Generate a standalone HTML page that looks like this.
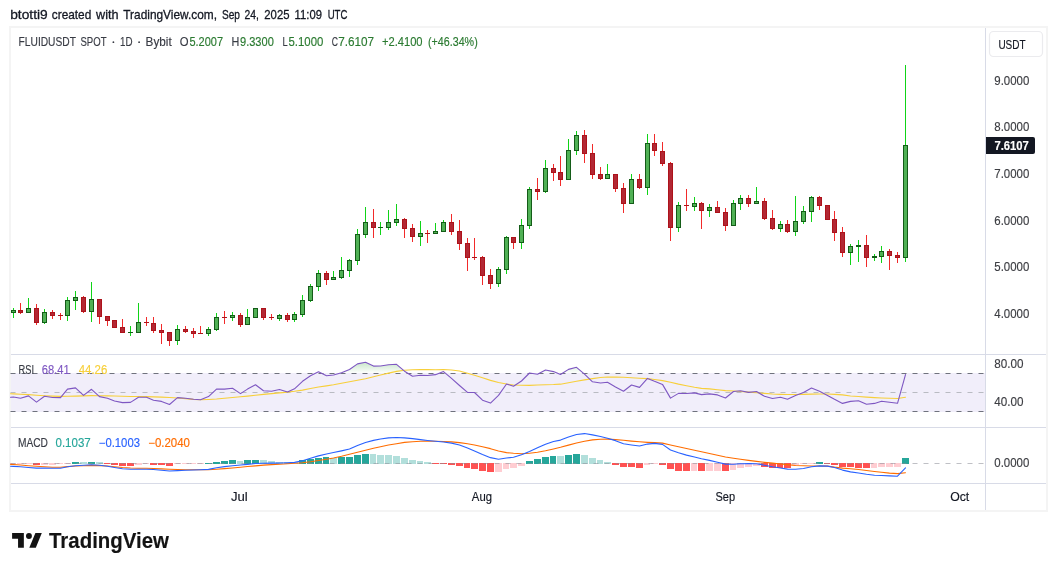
<!DOCTYPE html>
<html><head><meta charset="utf-8"><title>FLUIDUSDT chart</title>
<style>
html,body{margin:0;padding:0;background:#fff;}
body{width:1057px;height:571px;overflow:hidden;font-family:"Liberation Sans",sans-serif;}
svg{will-change:transform;display:block;position:absolute;left:0;top:0;}
text{font-family:"Liberation Sans",sans-serif;}
</style></head><body>
<svg width="1057" height="571" viewBox="0 0 1057 571">
<defs>
<linearGradient id="ob" gradientUnits="userSpaceOnUse" x1="0" y1="355" x2="0" y2="373.5">
<stop offset="0" stop-color="#4caf50" stop-opacity="0.5"/><stop offset="1" stop-color="#4caf50" stop-opacity="0"/>
</linearGradient>
<clipPath id="obclip"><rect x="11" y="355" width="974" height="18.5"/></clipPath>
</defs>
<rect x="0" y="0" width="1057" height="571" fill="#ffffff"/>

<g shape-rendering="crispEdges">
<rect x="9" y="26" width="1039" height="486" fill="#f4f4f4"/>
<rect x="11" y="28" width="1035" height="482" fill="#ffffff"/>
<rect x="11" y="373" width="974" height="39" fill="#f1eefa"/>
</g>
<path d="M10.5,373.5 L10.5,373.5 L13.5,373.5 L20.5,373.5 L28.5,373.5 L36.5,373.5 L44.5,373.5 L52.5,373.5 L60.5,373.5 L67.5,373.5 L75.5,373.5 L83.5,373.5 L91.5,373.5 L99.5,373.5 L107.5,373.5 L114.5,373.5 L122.5,373.5 L130.5,373.5 L138.5,373.5 L146.5,373.5 L153.5,373.5 L161.5,373.5 L169.5,373.5 L177.5,373.5 L185.5,373.5 L193.5,373.5 L200.5,373.5 L208.5,373.5 L216.5,373.5 L224.5,373.5 L232.5,373.5 L240.5,373.5 L247.5,373.5 L255.5,373.5 L263.5,373.5 L271.5,373.5 L279.5,373.5 L287.5,373.5 L294.5,373.5 L302.5,373.5 L310.5,373.5 L318.5,371.8 L326.5,373.5 L333.5,373.5 L341.5,372.8 L349.5,369.5 L357.5,363.9 L365.5,362.2 L373.5,366.1 L380.5,366 L388.5,364.8 L396.5,364.3 L404.5,371.2 L412.5,373.5 L420.5,373.5 L427.5,373.5 L435.5,373.5 L443.5,371.6 L451.5,373.5 L459.5,373.5 L467.5,373.5 L474.5,373.5 L482.5,373.5 L490.5,373.5 L498.5,373.5 L506.5,373.5 L513.5,373.5 L521.5,373.5 L529.5,373 L537.5,373.5 L545.5,370.05 L553.5,371.6 L560.5,373.5 L568.5,369.4 L576.5,367.3 L584.5,373.5 L592.5,373.5 L600.5,373.5 L607.5,373.5 L615.5,373.5 L623.5,373.5 L631.5,373.5 L639.5,373.5 L647.5,373.5 L654.5,373.5 L662.5,373.5 L670.5,373.5 L678.5,373.5 L686.5,373.5 L694.5,373.5 L701.5,373.5 L709.5,373.5 L717.5,373.5 L725.5,373.5 L733.5,373.5 L740.5,373.5 L748.5,373.5 L756.5,373.5 L764.5,373.5 L772.5,373.5 L780.5,373.5 L787.5,373.5 L795.5,373.5 L803.5,373.5 L811.5,373.5 L819.5,373.5 L827.5,373.5 L834.5,373.5 L842.5,373.5 L850.5,373.5 L858.5,373.5 L866.5,373.5 L874.5,373.5 L881.5,373.5 L889.5,373.5 L897.5,373.5 L905.5,373.5 L905.5,373.5 Z" fill="url(#ob)" clip-path="url(#obclip)"/>
<g shape-rendering="crispEdges" fill="#d8dbe7">
<rect x="11" y="354" width="1035" height="1"/>
<rect x="11" y="427" width="1035" height="1"/>
<rect x="11" y="483" width="1035" height="1"/>
<rect x="985" y="28" width="1" height="482"/>
</g>
<g fill="none" stroke-dasharray="5 6" stroke-width="1">
<path d="M10.5,373.5H985" stroke="#6f727d"/>
<path d="M10.5,411.5H985" stroke="#6f727d"/>
<path d="M10.5,392.5H985" stroke="#b9bbc2"/>
</g>
<g shape-rendering="crispEdges">
<rect x="10" y="463" width="6" height="1" fill="#ffcdd2"/>
<rect x="17" y="463" width="7" height="1" fill="#ffcdd2"/>
<rect x="25" y="463" width="7" height="1" fill="#ffcdd2"/>
<rect x="33" y="463" width="7" height="2" fill="#ff5252"/>
<rect x="41" y="463" width="7" height="2" fill="#ffcdd2"/>
<rect x="49" y="463" width="7" height="2" fill="#ffcdd2"/>
<rect x="57" y="463" width="6" height="1" fill="#ffcdd2"/>
<rect x="64" y="463" width="7" height="1" fill="#ffcdd2"/>
<rect x="72" y="462" width="7" height="2" fill="#26a69a"/>
<rect x="80" y="462" width="7" height="2" fill="#b2dfdb"/>
<rect x="88" y="462" width="7" height="2" fill="#26a69a"/>
<rect x="96" y="462" width="7" height="2" fill="#b2dfdb"/>
<rect x="104" y="463" width="6" height="1" fill="#ff5252"/>
<rect x="111" y="463" width="7" height="2" fill="#ff5252"/>
<rect x="119" y="463" width="7" height="3" fill="#ff5252"/>
<rect x="127" y="463" width="7" height="3" fill="#ff5252"/>
<rect x="135" y="463" width="7" height="2" fill="#ffcdd2"/>
<rect x="143" y="463" width="6" height="1" fill="#ffcdd2"/>
<rect x="150" y="463" width="7" height="2" fill="#ff5252"/>
<rect x="158" y="463" width="7" height="2" fill="#ff5252"/>
<rect x="166" y="463" width="7" height="3" fill="#ff5252"/>
<rect x="174" y="463" width="7" height="1" fill="#ffcdd2"/>
<rect x="182" y="463" width="7" height="1" fill="#ffcdd2"/>
<rect x="190" y="463" width="6" height="1" fill="#ffcdd2"/>
<rect x="197" y="463" width="7" height="1" fill="#ffcdd2"/>
<rect x="205" y="463" width="7" height="1" fill="#26a69a"/>
<rect x="213" y="462" width="7" height="2" fill="#26a69a"/>
<rect x="221" y="461" width="7" height="3" fill="#26a69a"/>
<rect x="229" y="460" width="7" height="4" fill="#26a69a"/>
<rect x="237" y="461" width="6" height="3" fill="#b2dfdb"/>
<rect x="244" y="460" width="7" height="4" fill="#26a69a"/>
<rect x="252" y="460" width="7" height="4" fill="#26a69a"/>
<rect x="260" y="460" width="7" height="4" fill="#b2dfdb"/>
<rect x="268" y="461" width="7" height="3" fill="#b2dfdb"/>
<rect x="276" y="462" width="7" height="2" fill="#b2dfdb"/>
<rect x="284" y="462" width="6" height="2" fill="#b2dfdb"/>
<rect x="291" y="462" width="7" height="2" fill="#b2dfdb"/>
<rect x="299" y="460" width="7" height="4" fill="#26a69a"/>
<rect x="307" y="459" width="7" height="5" fill="#26a69a"/>
<rect x="315" y="458" width="7" height="6" fill="#26a69a"/>
<rect x="323" y="457" width="6" height="7" fill="#26a69a"/>
<rect x="330" y="458" width="7" height="6" fill="#b2dfdb"/>
<rect x="338" y="457" width="7" height="7" fill="#26a69a"/>
<rect x="346" y="457" width="7" height="7" fill="#26a69a"/>
<rect x="354" y="455" width="7" height="9" fill="#26a69a"/>
<rect x="362" y="454" width="7" height="10" fill="#26a69a"/>
<rect x="370" y="454" width="6" height="10" fill="#b2dfdb"/>
<rect x="377" y="455" width="7" height="9" fill="#b2dfdb"/>
<rect x="385" y="455" width="7" height="9" fill="#b2dfdb"/>
<rect x="393" y="456" width="7" height="8" fill="#b2dfdb"/>
<rect x="401" y="458" width="7" height="6" fill="#b2dfdb"/>
<rect x="409" y="460" width="7" height="4" fill="#b2dfdb"/>
<rect x="417" y="461" width="6" height="3" fill="#b2dfdb"/>
<rect x="424" y="462" width="7" height="2" fill="#b2dfdb"/>
<rect x="432" y="463" width="7" height="1" fill="#ff5252"/>
<rect x="440" y="463" width="7" height="1" fill="#ff5252"/>
<rect x="448" y="463" width="7" height="2" fill="#ff5252"/>
<rect x="456" y="463" width="7" height="3" fill="#ff5252"/>
<rect x="464" y="463" width="6" height="5" fill="#ff5252"/>
<rect x="471" y="463" width="7" height="6" fill="#ff5252"/>
<rect x="479" y="463" width="7" height="8" fill="#ff5252"/>
<rect x="487" y="463" width="7" height="9" fill="#ff5252"/>
<rect x="495" y="463" width="7" height="9" fill="#ffcdd2"/>
<rect x="503" y="463" width="6" height="6" fill="#ffcdd2"/>
<rect x="510" y="463" width="7" height="5" fill="#ffcdd2"/>
<rect x="518" y="463" width="7" height="3" fill="#ffcdd2"/>
<rect x="526" y="461" width="7" height="3" fill="#26a69a"/>
<rect x="534" y="459" width="7" height="5" fill="#26a69a"/>
<rect x="542" y="457" width="7" height="7" fill="#26a69a"/>
<rect x="550" y="456" width="6" height="8" fill="#26a69a"/>
<rect x="557" y="456" width="7" height="8" fill="#b2dfdb"/>
<rect x="565" y="455" width="7" height="9" fill="#26a69a"/>
<rect x="573" y="454" width="7" height="10" fill="#26a69a"/>
<rect x="581" y="455" width="7" height="9" fill="#b2dfdb"/>
<rect x="589" y="458" width="7" height="6" fill="#b2dfdb"/>
<rect x="597" y="460" width="6" height="4" fill="#b2dfdb"/>
<rect x="604" y="462" width="7" height="2" fill="#b2dfdb"/>
<rect x="612" y="463" width="7" height="2" fill="#ff5252"/>
<rect x="620" y="463" width="7" height="4" fill="#ff5252"/>
<rect x="628" y="463" width="7" height="4" fill="#ff5252"/>
<rect x="636" y="463" width="7" height="5" fill="#ff5252"/>
<rect x="644" y="463" width="6" height="2" fill="#ffcdd2"/>
<rect x="651" y="463" width="7" height="1" fill="#ffcdd2"/>
<rect x="659" y="463" width="7" height="2" fill="#ff5252"/>
<rect x="667" y="463" width="7" height="6" fill="#ff5252"/>
<rect x="675" y="463" width="7" height="8" fill="#ff5252"/>
<rect x="683" y="463" width="7" height="8" fill="#ff5252"/>
<rect x="691" y="463" width="6" height="8" fill="#ffcdd2"/>
<rect x="698" y="463" width="7" height="8" fill="#ff5252"/>
<rect x="706" y="463" width="7" height="8" fill="#ffcdd2"/>
<rect x="714" y="463" width="7" height="8" fill="#ffcdd2"/>
<rect x="722" y="463" width="7" height="8" fill="#ff5252"/>
<rect x="730" y="463" width="6" height="7" fill="#ffcdd2"/>
<rect x="737" y="463" width="7" height="5" fill="#ffcdd2"/>
<rect x="745" y="463" width="7" height="4" fill="#ffcdd2"/>
<rect x="753" y="463" width="7" height="3" fill="#ffcdd2"/>
<rect x="761" y="463" width="7" height="4" fill="#ff5252"/>
<rect x="769" y="463" width="7" height="5" fill="#ff5252"/>
<rect x="777" y="463" width="6" height="5" fill="#ff5252"/>
<rect x="784" y="463" width="7" height="5" fill="#ff5252"/>
<rect x="792" y="463" width="7" height="2" fill="#ffcdd2"/>
<rect x="800" y="463" width="7" height="1" fill="#ffcdd2"/>
<rect x="808" y="463" width="7" height="1" fill="#ffcdd2"/>
<rect x="816" y="462" width="7" height="2" fill="#26a69a"/>
<rect x="824" y="463" width="6" height="1" fill="#ff5252"/>
<rect x="831" y="463" width="7" height="2" fill="#ff5252"/>
<rect x="839" y="463" width="7" height="4" fill="#ff5252"/>
<rect x="847" y="463" width="7" height="4" fill="#ff5252"/>
<rect x="855" y="463" width="7" height="5" fill="#ff5252"/>
<rect x="863" y="463" width="7" height="5" fill="#ff5252"/>
<rect x="871" y="463" width="6" height="5" fill="#ffcdd2"/>
<rect x="878" y="463" width="7" height="4" fill="#ffcdd2"/>
<rect x="886" y="463" width="7" height="4" fill="#ffcdd2"/>
<rect x="894" y="463" width="7" height="4" fill="#ffcdd2"/>
<rect x="902" y="458" width="7" height="6" fill="#26a69a"/>
</g>
<path d="M10.5,463.5H985" stroke="#8a8d96" stroke-opacity="0.55" stroke-dasharray="5 6" fill="none"/>
<polyline fill="none" stroke="#ff6d00" stroke-width="1.1" stroke-linejoin="round" stroke-linecap="round" points="10.5,464.33 13.5,464.55 20.5,465.07 28.5,465.69 36.5,466.31 44.5,466.78 52.5,467.18 60.5,467.3 67.5,466.62 75.5,466.05 83.5,465.71 91.5,465.37 99.5,465.62 107.5,466.02 114.5,466.71 122.5,467.46 130.5,467.97 138.5,468.3 146.5,468.3 153.5,468.46 161.5,468.84 169.5,469.2 177.5,469.53 185.5,469.8 193.5,469.8 200.5,469.8 208.5,469.76 216.5,469.21 224.5,468.61 232.5,468 240.5,467.26 247.5,466.57 255.5,465.83 263.5,465.17 271.5,464.58 279.5,464.19 287.5,463.76 294.5,463.27 302.5,462.71 310.5,461.76 318.5,460.58 326.5,459.19 333.5,457.93 341.5,456.22 349.5,454.3 357.5,452.32 365.5,450.25 373.5,448.26 380.5,446.7 388.5,444.94 396.5,443.67 404.5,442.41 412.5,441.78 420.5,441.22 427.5,441.16 435.5,441.26 443.5,441.5 451.5,441.88 459.5,442.6 467.5,443.82 474.5,444.98 482.5,446.81 490.5,448.66 498.5,451 506.5,452.6 513.5,453.31 521.5,453.78 529.5,453.26 537.5,452.17 545.5,450.77 553.5,448.95 560.5,447.25 568.5,445.1 576.5,443.02 584.5,441.18 592.5,439.88 600.5,439.22 607.5,439.12 615.5,439.59 623.5,440.31 631.5,441.12 639.5,441.78 647.5,442.33 654.5,442.67 662.5,443.14 670.5,444.94 678.5,446.72 686.5,448.46 694.5,450.19 701.5,451.75 709.5,453.54 717.5,455.26 725.5,456.95 733.5,458.29 740.5,459.31 748.5,460.41 756.5,461.4 764.5,462.33 772.5,463.13 780.5,463.93 787.5,464.63 795.5,465.43 803.5,465.71 811.5,465.95 819.5,466.04 827.5,466.1 834.5,467.12 842.5,468.08 850.5,468.75 858.5,469.57 866.5,470.56 874.5,471.5 881.5,472.3 889.5,473.09 897.5,473.6 905.5,472.7"/>
<polyline fill="none" stroke="#2962ff" stroke-width="1.1" stroke-linejoin="round" stroke-linecap="round" points="10.5,466.22 13.5,466.4 20.5,466.8 28.5,467.43 36.5,468.1 44.5,468.17 52.5,468.23 60.5,468.3 67.5,466.83 75.5,465.68 83.5,465.19 91.5,464.7 99.5,465.32 107.5,466.23 114.5,467.42 122.5,468.68 130.5,469.3 138.5,469.26 146.5,469.22 153.5,469.54 161.5,470.31 169.5,470.96 177.5,470.6 185.5,470.25 193.5,469.98 200.5,469.75 208.5,469.38 216.5,467.73 224.5,466.65 232.5,465.71 240.5,465.03 247.5,464.33 255.5,463.44 263.5,463.3 271.5,463.15 279.5,462.96 287.5,462.74 294.5,462.4 302.5,460.8 310.5,458.31 318.5,455.85 326.5,454 333.5,452.53 341.5,450.86 349.5,449.08 357.5,445.5 365.5,442.44 373.5,440.38 380.5,438.98 388.5,437.9 396.5,437.44 404.5,437.85 412.5,438.66 420.5,439.66 427.5,440.48 435.5,441.25 443.5,442.04 451.5,443.13 459.5,444.98 467.5,447.91 474.5,450.92 482.5,454.46 490.5,457.65 498.5,459.25 506.5,458.07 513.5,457.24 521.5,454.84 529.5,451.46 537.5,447.86 545.5,444.34 553.5,441.5 560.5,440.1 568.5,437.1 576.5,434.43 584.5,433.58 592.5,434.86 600.5,436.46 607.5,438.18 615.5,440.64 623.5,443.81 631.5,445.03 639.5,446.07 647.5,444.09 654.5,443.33 662.5,444.38 670.5,450.01 678.5,452.8 686.5,455.14 694.5,457.05 701.5,458.73 709.5,460.38 717.5,462.3 725.5,464.12 733.5,464.18 740.5,463.79 748.5,463.6 756.5,463.79 764.5,465.22 772.5,466.81 780.5,467.93 787.5,469.16 795.5,469.2 803.5,468.52 811.5,466.72 819.5,465.86 827.5,466.16 834.5,467.5 842.5,470.09 850.5,471.86 858.5,473 866.5,474.25 874.5,475.2 881.5,475.51 889.5,475.84 897.5,476.2 905.5,467.8"/>
<polyline fill="none" stroke="#f7cf3a" stroke-width="1.1" stroke-linejoin="round" stroke-linecap="round" points="10.5,393.7 13.5,393.85 20.5,394.2 28.5,394.61 36.5,395.2 44.5,395.72 52.5,396.09 60.5,396.37 67.5,396.25 75.5,396.11 83.5,395.88 91.5,395.64 99.5,395.71 107.5,395.86 114.5,396.03 122.5,396.27 130.5,396.44 138.5,396.54 146.5,396.67 153.5,396.88 161.5,397.13 169.5,397.55 177.5,397.97 185.5,398.67 193.5,399.41 200.5,399.82 208.5,399.45 216.5,398.96 224.5,398.21 232.5,397.47 240.5,396.76 247.5,396.14 255.5,395.26 263.5,394.37 271.5,393.63 279.5,392.92 287.5,392.09 294.5,391.3 302.5,390.1 310.5,388.5 318.5,387.03 326.5,385.86 333.5,384.8 341.5,383.25 349.5,381.7 357.5,380.19 365.5,378.68 373.5,376.76 380.5,374.99 388.5,373.12 396.5,371.38 404.5,370.21 412.5,369.79 420.5,369.53 427.5,369.61 435.5,369.69 443.5,369.49 451.5,369.99 459.5,371.04 467.5,373.2 474.5,375.26 482.5,377.77 490.5,380.39 498.5,382.5 506.5,384 513.5,385.04 521.5,385.21 529.5,385.39 537.5,384.99 545.5,384.77 553.5,384.55 560.5,384.17 568.5,382.76 576.5,381.33 584.5,379.9 592.5,378.64 600.5,377.54 607.5,376.94 615.5,377.08 623.5,377.28 631.5,377.75 639.5,378.21 647.5,378.61 654.5,379.46 662.5,380.66 670.5,382.31 678.5,384.14 686.5,385.78 694.5,387.27 701.5,388.36 709.5,388.88 717.5,389.77 725.5,390.59 733.5,391.06 740.5,391.47 748.5,392.12 756.5,392.78 764.5,393.4 772.5,394.01 780.5,394.33 787.5,394.49 795.5,394.52 803.5,394.33 811.5,394.16 819.5,394.01 827.5,393.99 834.5,394.4 842.5,394.87 850.5,395.94 858.5,396.57 866.5,397.16 874.5,397.67 881.5,398.01 889.5,398.25 897.5,398.5 905.5,397.2"/>
<polyline fill="none" stroke="#7e57c2" stroke-width="1.1" stroke-linejoin="round" stroke-linecap="round" points="10.5,397.3 13.5,397 20.5,398.3 28.5,395.9 36.5,402.1 44.5,396.3 52.5,397.5 60.5,397.6 67.5,389.1 75.5,387.9 83.5,395.4 91.5,389.3 99.5,396.6 107.5,398.2 114.5,401 122.5,402.6 130.5,402.4 138.5,397.3 146.5,397.3 153.5,400.2 161.5,401.4 169.5,404.5 177.5,397.6 185.5,398.3 193.5,399.3 200.5,399.7 208.5,396.6 216.5,389.1 224.5,389.1 232.5,388.3 240.5,393.6 247.5,389.1 255.5,384.7 263.5,390.8 271.5,391.2 279.5,389.5 287.5,392 294.5,388.8 302.5,381.3 310.5,375.8 318.5,371.8 326.5,375.8 333.5,375 341.5,372.8 349.5,369.5 357.5,363.9 365.5,362.2 373.5,366.1 380.5,366 388.5,364.8 396.5,364.3 404.5,371.2 412.5,376.2 420.5,375.3 427.5,375.5 435.5,374.65 443.5,371.6 451.5,378.4 459.5,385.5 467.5,392.4 474.5,392.5 482.5,400.2 490.5,403.1 498.5,395.4 506.5,384 513.5,386.2 521.5,381 529.5,373 537.5,374.3 545.5,370.05 553.5,371.6 560.5,374.5 568.5,369.4 576.5,367.3 584.5,374.1 592.5,381.8 600.5,383 607.5,382.3 615.5,386.9 623.5,391.2 631.5,385 639.5,387.4 647.5,378.4 654.5,381.3 662.5,384.4 670.5,398.15 678.5,393.4 686.5,393.55 694.5,392.9 701.5,394.6 709.5,393.9 717.5,394.9 725.5,398 733.5,391.5 740.5,390.7 748.5,392.4 756.5,391.5 764.5,396.3 772.5,398.5 780.5,397.3 787.5,399.2 795.5,395.4 803.5,392.4 811.5,388.1 819.5,391.2 827.5,395.4 834.5,399.3 842.5,403.4 850.5,401.4 858.5,400.7 866.5,404.2 874.5,403.4 881.5,401.2 889.5,402.2 897.5,403.3 905.5,374.6"/>
<g shape-rendering="crispEdges">
<rect x="13" y="308" width="1" height="10" fill="#0fd417"/>
<rect x="11" y="310" width="5" height="3" fill="#145c18"/>
<rect x="12" y="311" width="3" height="1" fill="#50b155"/>
<rect x="20" y="303" width="1" height="11" fill="#f22a2a"/>
<rect x="18" y="310" width="5" height="3" fill="#ad121a"/>
<rect x="19" y="311" width="3" height="1" fill="#b22834"/>
<rect x="28" y="298" width="1" height="15" fill="#0fd417"/>
<rect x="26" y="308" width="5" height="5" fill="#145c18"/>
<rect x="27" y="309" width="3" height="3" fill="#50b155"/>
<rect x="36" y="304" width="1" height="21" fill="#f22a2a"/>
<rect x="34" y="308" width="5" height="15" fill="#ad121a"/>
<rect x="35" y="309" width="3" height="13" fill="#b22834"/>
<rect x="44" y="309" width="1" height="15" fill="#0fd417"/>
<rect x="42" y="312" width="5" height="11" fill="#145c18"/>
<rect x="43" y="313" width="3" height="9" fill="#50b155"/>
<rect x="52" y="310" width="1" height="9" fill="#f22a2a"/>
<rect x="50" y="312" width="5" height="4" fill="#ad121a"/>
<rect x="51" y="313" width="3" height="2" fill="#b22834"/>
<rect x="60" y="313" width="1" height="7" fill="#f22a2a"/>
<rect x="58" y="315" width="5" height="1" fill="#ad121a"/>
<rect x="67" y="297" width="1" height="24" fill="#0fd417"/>
<rect x="65" y="300" width="5" height="16" fill="#145c18"/>
<rect x="66" y="301" width="3" height="14" fill="#50b155"/>
<rect x="75" y="291" width="1" height="19" fill="#0fd417"/>
<rect x="73" y="297" width="5" height="4" fill="#145c18"/>
<rect x="74" y="298" width="3" height="2" fill="#50b155"/>
<rect x="83" y="296" width="1" height="17" fill="#f22a2a"/>
<rect x="81" y="297" width="5" height="15" fill="#ad121a"/>
<rect x="82" y="298" width="3" height="13" fill="#b22834"/>
<rect x="91" y="282" width="1" height="40" fill="#0fd417"/>
<rect x="89" y="299" width="5" height="13" fill="#145c18"/>
<rect x="90" y="300" width="3" height="11" fill="#50b155"/>
<rect x="99" y="299" width="1" height="25" fill="#f22a2a"/>
<rect x="97" y="299" width="5" height="18" fill="#ad121a"/>
<rect x="98" y="300" width="3" height="16" fill="#b22834"/>
<rect x="107" y="316" width="1" height="10" fill="#f22a2a"/>
<rect x="105" y="316" width="5" height="5" fill="#ad121a"/>
<rect x="106" y="317" width="3" height="3" fill="#b22834"/>
<rect x="114" y="320" width="1" height="8" fill="#f22a2a"/>
<rect x="112" y="320" width="5" height="8" fill="#ad121a"/>
<rect x="113" y="321" width="3" height="6" fill="#b22834"/>
<rect x="122" y="319" width="1" height="14" fill="#f22a2a"/>
<rect x="120" y="327" width="5" height="6" fill="#ad121a"/>
<rect x="121" y="328" width="3" height="4" fill="#b22834"/>
<rect x="130" y="326" width="1" height="10" fill="#0fd417"/>
<rect x="128" y="332" width="5" height="1" fill="#145c18"/>
<rect x="138" y="303" width="1" height="30" fill="#0fd417"/>
<rect x="136" y="322" width="5" height="11" fill="#145c18"/>
<rect x="137" y="323" width="3" height="9" fill="#50b155"/>
<rect x="146" y="317" width="1" height="9" fill="#f22a2a"/>
<rect x="144" y="322" width="5" height="1" fill="#ad121a"/>
<rect x="153" y="317" width="1" height="16" fill="#f22a2a"/>
<rect x="151" y="323" width="5" height="8" fill="#ad121a"/>
<rect x="152" y="324" width="3" height="6" fill="#b22834"/>
<rect x="161" y="324" width="1" height="20" fill="#f22a2a"/>
<rect x="159" y="330" width="5" height="3" fill="#ad121a"/>
<rect x="160" y="331" width="3" height="1" fill="#b22834"/>
<rect x="169" y="332" width="1" height="14" fill="#f22a2a"/>
<rect x="167" y="332" width="5" height="9" fill="#ad121a"/>
<rect x="168" y="333" width="3" height="7" fill="#b22834"/>
<rect x="177" y="325" width="1" height="20" fill="#0fd417"/>
<rect x="175" y="329" width="5" height="12" fill="#145c18"/>
<rect x="176" y="330" width="3" height="10" fill="#50b155"/>
<rect x="185" y="326" width="1" height="7" fill="#f22a2a"/>
<rect x="183" y="329" width="5" height="3" fill="#ad121a"/>
<rect x="184" y="330" width="3" height="1" fill="#b22834"/>
<rect x="193" y="328" width="1" height="10" fill="#f22a2a"/>
<rect x="191" y="331" width="5" height="3" fill="#ad121a"/>
<rect x="192" y="332" width="3" height="1" fill="#b22834"/>
<rect x="200" y="326" width="1" height="8" fill="#f22a2a"/>
<rect x="198" y="333" width="5" height="1" fill="#ad121a"/>
<rect x="208" y="327" width="1" height="9" fill="#0fd417"/>
<rect x="206" y="329" width="5" height="5" fill="#145c18"/>
<rect x="207" y="330" width="3" height="3" fill="#50b155"/>
<rect x="216" y="313" width="1" height="18" fill="#0fd417"/>
<rect x="214" y="317" width="5" height="13" fill="#145c18"/>
<rect x="215" y="318" width="3" height="11" fill="#50b155"/>
<rect x="224" y="311" width="1" height="13" fill="#f22a2a"/>
<rect x="222" y="317" width="5" height="1" fill="#ad121a"/>
<rect x="232" y="312" width="1" height="9" fill="#0fd417"/>
<rect x="230" y="315" width="5" height="3" fill="#145c18"/>
<rect x="231" y="316" width="3" height="1" fill="#50b155"/>
<rect x="240" y="313" width="1" height="14" fill="#f22a2a"/>
<rect x="238" y="315" width="5" height="10" fill="#ad121a"/>
<rect x="239" y="316" width="3" height="8" fill="#b22834"/>
<rect x="247" y="309" width="1" height="16" fill="#0fd417"/>
<rect x="245" y="317" width="5" height="8" fill="#145c18"/>
<rect x="246" y="318" width="3" height="6" fill="#50b155"/>
<rect x="255" y="308" width="1" height="10" fill="#0fd417"/>
<rect x="253" y="308" width="5" height="10" fill="#145c18"/>
<rect x="254" y="309" width="3" height="8" fill="#50b155"/>
<rect x="263" y="308" width="1" height="12" fill="#f22a2a"/>
<rect x="261" y="308" width="5" height="10" fill="#ad121a"/>
<rect x="262" y="309" width="3" height="8" fill="#b22834"/>
<rect x="271" y="314" width="1" height="6" fill="#f22a2a"/>
<rect x="269" y="317" width="5" height="1" fill="#ad121a"/>
<rect x="279" y="314" width="1" height="7" fill="#0fd417"/>
<rect x="277" y="315" width="5" height="4" fill="#145c18"/>
<rect x="278" y="316" width="3" height="2" fill="#50b155"/>
<rect x="287" y="313" width="1" height="9" fill="#f22a2a"/>
<rect x="285" y="315" width="5" height="5" fill="#ad121a"/>
<rect x="286" y="316" width="3" height="3" fill="#b22834"/>
<rect x="294" y="312" width="1" height="10" fill="#0fd417"/>
<rect x="292" y="314" width="5" height="6" fill="#145c18"/>
<rect x="293" y="315" width="3" height="4" fill="#50b155"/>
<rect x="302" y="295" width="1" height="22" fill="#0fd417"/>
<rect x="300" y="300" width="5" height="15" fill="#145c18"/>
<rect x="301" y="301" width="3" height="13" fill="#50b155"/>
<rect x="310" y="284" width="1" height="18" fill="#0fd417"/>
<rect x="308" y="286" width="5" height="15" fill="#145c18"/>
<rect x="309" y="287" width="3" height="13" fill="#50b155"/>
<rect x="318" y="270" width="1" height="21" fill="#0fd417"/>
<rect x="316" y="273" width="5" height="14" fill="#145c18"/>
<rect x="317" y="274" width="3" height="12" fill="#50b155"/>
<rect x="326" y="271" width="1" height="14" fill="#f22a2a"/>
<rect x="324" y="273" width="5" height="7" fill="#ad121a"/>
<rect x="325" y="274" width="3" height="5" fill="#b22834"/>
<rect x="333" y="271" width="1" height="9" fill="#0fd417"/>
<rect x="331" y="277" width="5" height="3" fill="#145c18"/>
<rect x="332" y="278" width="3" height="1" fill="#50b155"/>
<rect x="341" y="257" width="1" height="22" fill="#0fd417"/>
<rect x="339" y="270" width="5" height="8" fill="#145c18"/>
<rect x="340" y="271" width="3" height="6" fill="#50b155"/>
<rect x="349" y="259" width="1" height="18" fill="#0fd417"/>
<rect x="347" y="260" width="5" height="11" fill="#145c18"/>
<rect x="348" y="261" width="3" height="9" fill="#50b155"/>
<rect x="357" y="229" width="1" height="36" fill="#0fd417"/>
<rect x="355" y="234" width="5" height="27" fill="#145c18"/>
<rect x="356" y="235" width="3" height="25" fill="#50b155"/>
<rect x="365" y="207" width="1" height="31" fill="#0fd417"/>
<rect x="363" y="222" width="5" height="13" fill="#145c18"/>
<rect x="364" y="223" width="3" height="11" fill="#50b155"/>
<rect x="373" y="209" width="1" height="29" fill="#f22a2a"/>
<rect x="371" y="222" width="5" height="6" fill="#ad121a"/>
<rect x="372" y="223" width="3" height="4" fill="#b22834"/>
<rect x="380" y="222" width="1" height="13" fill="#0fd417"/>
<rect x="378" y="227" width="5" height="1" fill="#145c18"/>
<rect x="388" y="210" width="1" height="20" fill="#0fd417"/>
<rect x="386" y="222" width="5" height="6" fill="#145c18"/>
<rect x="387" y="223" width="3" height="4" fill="#50b155"/>
<rect x="396" y="204" width="1" height="22" fill="#0fd417"/>
<rect x="394" y="219" width="5" height="4" fill="#145c18"/>
<rect x="395" y="220" width="3" height="2" fill="#50b155"/>
<rect x="404" y="218" width="1" height="20" fill="#f22a2a"/>
<rect x="402" y="219" width="5" height="10" fill="#ad121a"/>
<rect x="403" y="220" width="3" height="8" fill="#b22834"/>
<rect x="412" y="224" width="1" height="18" fill="#f22a2a"/>
<rect x="410" y="228" width="5" height="9" fill="#ad121a"/>
<rect x="411" y="229" width="3" height="7" fill="#b22834"/>
<rect x="420" y="221" width="1" height="25" fill="#0fd417"/>
<rect x="418" y="233" width="5" height="4" fill="#145c18"/>
<rect x="419" y="234" width="3" height="2" fill="#50b155"/>
<rect x="427" y="230" width="1" height="13" fill="#f22a2a"/>
<rect x="425" y="233" width="5" height="1" fill="#ad121a"/>
<rect x="435" y="223" width="1" height="11" fill="#0fd417"/>
<rect x="433" y="231" width="5" height="3" fill="#145c18"/>
<rect x="434" y="232" width="3" height="1" fill="#50b155"/>
<rect x="443" y="220" width="1" height="12" fill="#0fd417"/>
<rect x="441" y="222" width="5" height="10" fill="#145c18"/>
<rect x="442" y="223" width="3" height="8" fill="#50b155"/>
<rect x="451" y="214" width="1" height="21" fill="#f22a2a"/>
<rect x="449" y="222" width="5" height="10" fill="#ad121a"/>
<rect x="450" y="223" width="3" height="8" fill="#b22834"/>
<rect x="459" y="220" width="1" height="30" fill="#f22a2a"/>
<rect x="457" y="231" width="5" height="13" fill="#ad121a"/>
<rect x="458" y="232" width="3" height="11" fill="#b22834"/>
<rect x="467" y="238" width="1" height="33" fill="#f22a2a"/>
<rect x="465" y="243" width="5" height="15" fill="#ad121a"/>
<rect x="466" y="244" width="3" height="13" fill="#b22834"/>
<rect x="474" y="238" width="1" height="22" fill="#f22a2a"/>
<rect x="472" y="257" width="5" height="1" fill="#ad121a"/>
<rect x="482" y="256" width="1" height="29" fill="#f22a2a"/>
<rect x="480" y="257" width="5" height="19" fill="#ad121a"/>
<rect x="481" y="258" width="3" height="17" fill="#b22834"/>
<rect x="490" y="269" width="1" height="20" fill="#f22a2a"/>
<rect x="488" y="275" width="5" height="9" fill="#ad121a"/>
<rect x="489" y="276" width="3" height="7" fill="#b22834"/>
<rect x="498" y="267" width="1" height="20" fill="#0fd417"/>
<rect x="496" y="269" width="5" height="15" fill="#145c18"/>
<rect x="497" y="270" width="3" height="13" fill="#50b155"/>
<rect x="506" y="236" width="1" height="38" fill="#0fd417"/>
<rect x="504" y="237" width="5" height="33" fill="#145c18"/>
<rect x="505" y="238" width="3" height="31" fill="#50b155"/>
<rect x="513" y="237" width="1" height="12" fill="#f22a2a"/>
<rect x="511" y="237" width="5" height="6" fill="#ad121a"/>
<rect x="512" y="238" width="3" height="4" fill="#b22834"/>
<rect x="521" y="219" width="1" height="30" fill="#0fd417"/>
<rect x="519" y="225" width="5" height="18" fill="#145c18"/>
<rect x="520" y="226" width="3" height="16" fill="#50b155"/>
<rect x="529" y="187" width="1" height="42" fill="#0fd417"/>
<rect x="527" y="189" width="5" height="37" fill="#145c18"/>
<rect x="528" y="190" width="3" height="35" fill="#50b155"/>
<rect x="537" y="178" width="1" height="22" fill="#f22a2a"/>
<rect x="535" y="189" width="5" height="3" fill="#ad121a"/>
<rect x="536" y="190" width="3" height="1" fill="#b22834"/>
<rect x="545" y="160" width="1" height="33" fill="#0fd417"/>
<rect x="543" y="168" width="5" height="24" fill="#145c18"/>
<rect x="544" y="169" width="3" height="22" fill="#50b155"/>
<rect x="553" y="164" width="1" height="17" fill="#f22a2a"/>
<rect x="551" y="168" width="5" height="5" fill="#ad121a"/>
<rect x="552" y="169" width="3" height="3" fill="#b22834"/>
<rect x="560" y="156" width="1" height="30" fill="#f22a2a"/>
<rect x="558" y="172" width="5" height="8" fill="#ad121a"/>
<rect x="559" y="173" width="3" height="6" fill="#b22834"/>
<rect x="568" y="139" width="1" height="41" fill="#0fd417"/>
<rect x="566" y="150" width="5" height="30" fill="#145c18"/>
<rect x="567" y="151" width="3" height="28" fill="#50b155"/>
<rect x="576" y="131" width="1" height="24" fill="#0fd417"/>
<rect x="574" y="135" width="5" height="16" fill="#145c18"/>
<rect x="575" y="136" width="3" height="14" fill="#50b155"/>
<rect x="584" y="130" width="1" height="33" fill="#f22a2a"/>
<rect x="582" y="135" width="5" height="19" fill="#ad121a"/>
<rect x="583" y="136" width="3" height="17" fill="#b22834"/>
<rect x="592" y="144" width="1" height="35" fill="#f22a2a"/>
<rect x="590" y="153" width="5" height="22" fill="#ad121a"/>
<rect x="591" y="154" width="3" height="20" fill="#b22834"/>
<rect x="600" y="167" width="1" height="13" fill="#f22a2a"/>
<rect x="598" y="174" width="5" height="5" fill="#ad121a"/>
<rect x="599" y="175" width="3" height="3" fill="#b22834"/>
<rect x="607" y="164" width="1" height="15" fill="#0fd417"/>
<rect x="605" y="174" width="5" height="5" fill="#145c18"/>
<rect x="606" y="175" width="3" height="3" fill="#50b155"/>
<rect x="615" y="174" width="1" height="18" fill="#f22a2a"/>
<rect x="613" y="174" width="5" height="15" fill="#ad121a"/>
<rect x="614" y="175" width="3" height="13" fill="#b22834"/>
<rect x="623" y="183" width="1" height="30" fill="#f22a2a"/>
<rect x="621" y="188" width="5" height="16" fill="#ad121a"/>
<rect x="622" y="189" width="3" height="14" fill="#b22834"/>
<rect x="631" y="174" width="1" height="30" fill="#0fd417"/>
<rect x="629" y="179" width="5" height="25" fill="#145c18"/>
<rect x="630" y="180" width="3" height="23" fill="#50b155"/>
<rect x="639" y="174" width="1" height="15" fill="#f22a2a"/>
<rect x="637" y="179" width="5" height="9" fill="#ad121a"/>
<rect x="638" y="180" width="3" height="7" fill="#b22834"/>
<rect x="647" y="134" width="1" height="61" fill="#0fd417"/>
<rect x="645" y="143" width="5" height="45" fill="#145c18"/>
<rect x="646" y="144" width="3" height="43" fill="#50b155"/>
<rect x="654" y="134" width="1" height="22" fill="#f22a2a"/>
<rect x="652" y="143" width="5" height="8" fill="#ad121a"/>
<rect x="653" y="144" width="3" height="6" fill="#b22834"/>
<rect x="662" y="142" width="1" height="24" fill="#f22a2a"/>
<rect x="660" y="151" width="5" height="13" fill="#ad121a"/>
<rect x="661" y="152" width="3" height="11" fill="#b22834"/>
<rect x="670" y="162" width="1" height="79" fill="#f22a2a"/>
<rect x="668" y="163" width="5" height="65" fill="#ad121a"/>
<rect x="669" y="164" width="3" height="63" fill="#b22834"/>
<rect x="678" y="202" width="1" height="30" fill="#0fd417"/>
<rect x="676" y="205" width="5" height="23" fill="#145c18"/>
<rect x="677" y="206" width="3" height="21" fill="#50b155"/>
<rect x="686" y="189" width="1" height="22" fill="#f22a2a"/>
<rect x="684" y="205" width="5" height="1" fill="#ad121a"/>
<rect x="694" y="197" width="1" height="14" fill="#0fd417"/>
<rect x="692" y="203" width="5" height="4" fill="#145c18"/>
<rect x="693" y="204" width="3" height="2" fill="#50b155"/>
<rect x="701" y="202" width="1" height="27" fill="#f22a2a"/>
<rect x="699" y="203" width="5" height="8" fill="#ad121a"/>
<rect x="700" y="204" width="3" height="6" fill="#b22834"/>
<rect x="709" y="204" width="1" height="13" fill="#0fd417"/>
<rect x="707" y="207" width="5" height="4" fill="#145c18"/>
<rect x="708" y="208" width="3" height="2" fill="#50b155"/>
<rect x="717" y="201" width="1" height="12" fill="#f22a2a"/>
<rect x="715" y="207" width="5" height="6" fill="#ad121a"/>
<rect x="716" y="208" width="3" height="4" fill="#b22834"/>
<rect x="725" y="208" width="1" height="23" fill="#f22a2a"/>
<rect x="723" y="212" width="5" height="14" fill="#ad121a"/>
<rect x="724" y="213" width="3" height="12" fill="#b22834"/>
<rect x="733" y="200" width="1" height="26" fill="#0fd417"/>
<rect x="731" y="203" width="5" height="23" fill="#145c18"/>
<rect x="732" y="204" width="3" height="21" fill="#50b155"/>
<rect x="740" y="195" width="1" height="15" fill="#0fd417"/>
<rect x="738" y="198" width="5" height="6" fill="#145c18"/>
<rect x="739" y="199" width="3" height="4" fill="#50b155"/>
<rect x="748" y="195" width="1" height="12" fill="#f22a2a"/>
<rect x="746" y="198" width="5" height="6" fill="#ad121a"/>
<rect x="747" y="199" width="3" height="4" fill="#b22834"/>
<rect x="756" y="187" width="1" height="17" fill="#0fd417"/>
<rect x="754" y="201" width="5" height="3" fill="#145c18"/>
<rect x="755" y="202" width="3" height="1" fill="#50b155"/>
<rect x="764" y="198" width="1" height="22" fill="#f22a2a"/>
<rect x="762" y="201" width="5" height="18" fill="#ad121a"/>
<rect x="763" y="202" width="3" height="16" fill="#b22834"/>
<rect x="772" y="210" width="1" height="20" fill="#f22a2a"/>
<rect x="770" y="218" width="5" height="11" fill="#ad121a"/>
<rect x="771" y="219" width="3" height="9" fill="#b22834"/>
<rect x="780" y="221" width="1" height="11" fill="#0fd417"/>
<rect x="778" y="224" width="5" height="5" fill="#145c18"/>
<rect x="779" y="225" width="3" height="3" fill="#50b155"/>
<rect x="787" y="220" width="1" height="13" fill="#f22a2a"/>
<rect x="785" y="224" width="5" height="8" fill="#ad121a"/>
<rect x="786" y="225" width="3" height="6" fill="#b22834"/>
<rect x="795" y="196" width="1" height="40" fill="#0fd417"/>
<rect x="793" y="221" width="5" height="11" fill="#145c18"/>
<rect x="794" y="222" width="3" height="9" fill="#50b155"/>
<rect x="803" y="206" width="1" height="18" fill="#0fd417"/>
<rect x="801" y="211" width="5" height="11" fill="#145c18"/>
<rect x="802" y="212" width="3" height="9" fill="#50b155"/>
<rect x="811" y="196" width="1" height="26" fill="#0fd417"/>
<rect x="809" y="197" width="5" height="15" fill="#145c18"/>
<rect x="810" y="198" width="3" height="13" fill="#50b155"/>
<rect x="819" y="196" width="1" height="14" fill="#f22a2a"/>
<rect x="817" y="197" width="5" height="9" fill="#ad121a"/>
<rect x="818" y="198" width="3" height="7" fill="#b22834"/>
<rect x="827" y="205" width="1" height="15" fill="#f22a2a"/>
<rect x="825" y="205" width="5" height="15" fill="#ad121a"/>
<rect x="826" y="206" width="3" height="13" fill="#b22834"/>
<rect x="834" y="211" width="1" height="30" fill="#f22a2a"/>
<rect x="832" y="219" width="5" height="14" fill="#ad121a"/>
<rect x="833" y="220" width="3" height="12" fill="#b22834"/>
<rect x="842" y="227" width="1" height="30" fill="#f22a2a"/>
<rect x="840" y="232" width="5" height="21" fill="#ad121a"/>
<rect x="841" y="233" width="3" height="19" fill="#b22834"/>
<rect x="850" y="244" width="1" height="21" fill="#0fd417"/>
<rect x="848" y="246" width="5" height="7" fill="#145c18"/>
<rect x="849" y="247" width="3" height="5" fill="#50b155"/>
<rect x="858" y="240" width="1" height="22" fill="#0fd417"/>
<rect x="856" y="245" width="5" height="2" fill="#145c18"/>
<rect x="866" y="235" width="1" height="32" fill="#f22a2a"/>
<rect x="864" y="245" width="5" height="13" fill="#ad121a"/>
<rect x="865" y="246" width="3" height="11" fill="#b22834"/>
<rect x="874" y="254" width="1" height="7" fill="#0fd417"/>
<rect x="872" y="256" width="5" height="2" fill="#145c18"/>
<rect x="881" y="246" width="1" height="17" fill="#0fd417"/>
<rect x="879" y="251" width="5" height="6" fill="#145c18"/>
<rect x="880" y="252" width="3" height="4" fill="#50b155"/>
<rect x="889" y="249" width="1" height="21" fill="#f22a2a"/>
<rect x="887" y="251" width="5" height="5" fill="#ad121a"/>
<rect x="888" y="252" width="3" height="3" fill="#b22834"/>
<rect x="897" y="252" width="1" height="11" fill="#f22a2a"/>
<rect x="895" y="255" width="5" height="3" fill="#ad121a"/>
<rect x="896" y="256" width="3" height="1" fill="#b22834"/>
<rect x="905" y="65" width="1" height="197" fill="#0fd417"/>
<rect x="903" y="145" width="5" height="113" fill="#145c18"/>
<rect x="904" y="146" width="3" height="111" fill="#50b155"/>
</g>
<path d="M986,137H1033a2,2 0 0 1 2,2V152a2,2 0 0 1 -2,2H986Z" fill="#131722"/>
<rect x="989.5" y="31.5" width="53" height="25" rx="4" ry="4" fill="#fff" stroke="#ebebee" stroke-width="1.2"/>
<g opacity="0.999">
<text x="10.2" y="19" font-size="13" fill="#131722" stroke="#131722" stroke-width="0.3" textLength="37.5" lengthAdjust="spacingAndGlyphs">btotti9</text>
<text x="51.8" y="19" font-size="13" fill="#131722" stroke="#131722" stroke-width="0.3" textLength="39.5" lengthAdjust="spacingAndGlyphs">created</text>
<text x="96" y="19" font-size="13" fill="#131722" stroke="#131722" stroke-width="0.3" textLength="22.5" lengthAdjust="spacingAndGlyphs">with</text>
<text x="123.3" y="19" font-size="13" fill="#131722" stroke="#131722" stroke-width="0.3" textLength="93.7" lengthAdjust="spacingAndGlyphs">TradingView.com,</text>
<text x="222" y="19" font-size="13" fill="#131722" stroke="#131722" stroke-width="0.3" textLength="18" lengthAdjust="spacingAndGlyphs">Sep</text>
<text x="244.5" y="19" font-size="13" fill="#131722" stroke="#131722" stroke-width="0.3" textLength="14.4" lengthAdjust="spacingAndGlyphs">24,</text>
<text x="264.3" y="19" font-size="13" fill="#131722" stroke="#131722" stroke-width="0.3" textLength="25.2" lengthAdjust="spacingAndGlyphs">2025</text>
<text x="294.6" y="19" font-size="13" fill="#131722" stroke="#131722" stroke-width="0.3" textLength="27.3" lengthAdjust="spacingAndGlyphs">11:09</text>
<text x="327.7" y="19" font-size="13" fill="#131722" stroke="#131722" stroke-width="0.3" textLength="19.7" lengthAdjust="spacingAndGlyphs">UTC</text>
<text x="18.6" y="46" font-size="12" fill="#383b44" stroke="#383b44" stroke-width="0.15" textLength="57.3" lengthAdjust="spacingAndGlyphs">FLUIDUSDT</text>
<text x="80.4" y="46" font-size="12" fill="#383b44" stroke="#383b44" stroke-width="0.15" textLength="26.1" lengthAdjust="spacingAndGlyphs">SPOT</text>
<text x="120.1" y="46" font-size="12" fill="#383b44" stroke="#383b44" stroke-width="0.15" textLength="12.5" lengthAdjust="spacingAndGlyphs">1D</text>
<text x="145.6" y="46" font-size="12" fill="#383b44" stroke="#383b44" stroke-width="0.15" textLength="26.1" lengthAdjust="spacingAndGlyphs">Bybit</text>
<text x="179.8" y="46" font-size="12" fill="#383b44" stroke="#383b44" stroke-width="0.15" textLength="8.8" lengthAdjust="spacingAndGlyphs">O</text>
<text x="189.4" y="46" font-size="12" fill="#2a7a30" stroke="#2a7a30" stroke-width="0.15" textLength="33.6" lengthAdjust="spacingAndGlyphs">5.2007</text>
<text x="231.4" y="46" font-size="12" fill="#383b44" stroke="#383b44" stroke-width="0.15" textLength="7.8" lengthAdjust="spacingAndGlyphs">H</text>
<text x="240" y="46" font-size="12" fill="#2a7a30" stroke="#2a7a30" stroke-width="0.15" textLength="33.8" lengthAdjust="spacingAndGlyphs">9.3300</text>
<text x="282.6" y="46" font-size="12" fill="#383b44" stroke="#383b44" stroke-width="0.15" textLength="5.2" lengthAdjust="spacingAndGlyphs">L</text>
<text x="288.5" y="46" font-size="12" fill="#2a7a30" stroke="#2a7a30" stroke-width="0.15" textLength="34.8" lengthAdjust="spacingAndGlyphs">5.1000</text>
<text x="331.8" y="46" font-size="12" fill="#383b44" stroke="#383b44" stroke-width="0.15" textLength="6.2" lengthAdjust="spacingAndGlyphs">C</text>
<text x="338.2" y="46" font-size="12" fill="#2a7a30" stroke="#2a7a30" stroke-width="0.15" textLength="35.9" lengthAdjust="spacingAndGlyphs">7.6107</text>
<text x="381.9" y="46" font-size="12" fill="#2a7a30" stroke="#2a7a30" stroke-width="0.15" textLength="40.7" lengthAdjust="spacingAndGlyphs">+2.4100</text>
<text x="428" y="46" font-size="12" fill="#2a7a30" stroke="#2a7a30" stroke-width="0.15" textLength="49.7" lengthAdjust="spacingAndGlyphs">(+46.34%)</text>
<circle cx="113.4" cy="42.2" r="0.9" fill="#383b44"/><circle cx="139.1" cy="42.2" r="0.9" fill="#383b44"/>
<text x="18.6" y="374" font-size="12" fill="#383b44" stroke="#383b44" stroke-width="0.15" textLength="15.5" lengthAdjust="spacingAndGlyphs">RSI</text>
<text x="41.7" y="374" font-size="12" fill="#7e57c2" stroke="#7e57c2" stroke-width="0.15" textLength="27.9" lengthAdjust="spacingAndGlyphs">68.41</text>
<text x="78.7" y="374" font-size="12" fill="#f7cf3a" stroke="#f7cf3a" stroke-width="0.15" textLength="28.6" lengthAdjust="spacingAndGlyphs">44.26</text>
<text x="17.9" y="447" font-size="12" fill="#383b44" stroke="#383b44" stroke-width="0.15" textLength="30" lengthAdjust="spacingAndGlyphs">MACD</text>
<text x="55.5" y="447" font-size="12" fill="#26a69a" stroke="#26a69a" stroke-width="0.15" textLength="35.2" lengthAdjust="spacingAndGlyphs">0.1037</text>
<text x="98.8" y="447" font-size="12" fill="#2962ff" stroke="#2962ff" stroke-width="0.15" textLength="41.2" lengthAdjust="spacingAndGlyphs">−0.1003</text>
<text x="148.2" y="447" font-size="12" fill="#ff6d00" stroke="#ff6d00" stroke-width="0.15" textLength="41.8" lengthAdjust="spacingAndGlyphs">−0.2040</text>
<text x="994.3" y="85" font-size="12" fill="#3c3d42" stroke="#3c3d42" stroke-width="0.15" textLength="35" lengthAdjust="spacingAndGlyphs">9.0000</text>
<text x="994.3" y="131" font-size="12" fill="#3c3d42" stroke="#3c3d42" stroke-width="0.15" textLength="35" lengthAdjust="spacingAndGlyphs">8.0000</text>
<text x="994.3" y="178" font-size="12" fill="#3c3d42" stroke="#3c3d42" stroke-width="0.15" textLength="35" lengthAdjust="spacingAndGlyphs">7.0000</text>
<text x="994.3" y="225" font-size="12" fill="#3c3d42" stroke="#3c3d42" stroke-width="0.15" textLength="35" lengthAdjust="spacingAndGlyphs">6.0000</text>
<text x="994.3" y="271" font-size="12" fill="#3c3d42" stroke="#3c3d42" stroke-width="0.15" textLength="35" lengthAdjust="spacingAndGlyphs">5.0000</text>
<text x="994.3" y="318" font-size="12" fill="#3c3d42" stroke="#3c3d42" stroke-width="0.15" textLength="35" lengthAdjust="spacingAndGlyphs">4.0000</text>
<text x="994.4" y="150" font-size="12" fill="#ffffff" stroke="#ffffff" stroke-width="0.15" textLength="34.5" lengthAdjust="spacingAndGlyphs" font-weight="bold">7.6107</text>
<text x="998.4" y="48.7" font-size="12" fill="#131722" stroke="#131722" stroke-width="0.15" textLength="27.2" lengthAdjust="spacingAndGlyphs">USDT</text>
<text x="994.3" y="368" font-size="12" fill="#3c3d42" stroke="#3c3d42" stroke-width="0.15" textLength="29.2" lengthAdjust="spacingAndGlyphs">80.00</text>
<text x="994.3" y="406" font-size="12" fill="#3c3d42" stroke="#3c3d42" stroke-width="0.15" textLength="29.2" lengthAdjust="spacingAndGlyphs">40.00</text>
<text x="994.3" y="466.7" font-size="12" fill="#3c3d42" stroke="#3c3d42" stroke-width="0.15" textLength="35" lengthAdjust="spacingAndGlyphs">0.0000</text>
<text x="230.9" y="501" font-size="12" fill="#131722" stroke="#131722" stroke-width="0.15" textLength="16.8" lengthAdjust="spacingAndGlyphs">Jul</text>
<text x="471.85" y="501" font-size="12" fill="#131722" stroke="#131722" stroke-width="0.15" textLength="20.1" lengthAdjust="spacingAndGlyphs">Aug</text>
<text x="715.5" y="501" font-size="12" fill="#131722" stroke="#131722" stroke-width="0.15" textLength="19.6" lengthAdjust="spacingAndGlyphs">Sep</text>
<text x="950.15" y="501" font-size="12" fill="#131722" stroke="#131722" stroke-width="0.15" textLength="19.1" lengthAdjust="spacingAndGlyphs">Oct</text>
</g>
<g fill="#131313">
<path d="M12.1,533.1H23.85V547.8H18.06V538.8H12.1Z"/>
<circle cx="28.95" cy="535.95" r="2.95"/>
<path d="M35.4,533.1H41.8L35.8,547.8H29.3Z"/>
</g>
<g opacity="0.999">
<text x="49" y="547.8" font-size="21.4" fill="#131313" stroke="#131313" stroke-width="0.15" textLength="120" lengthAdjust="spacingAndGlyphs" font-weight="bold">TradingView</text>
</g>
</svg></body></html>
